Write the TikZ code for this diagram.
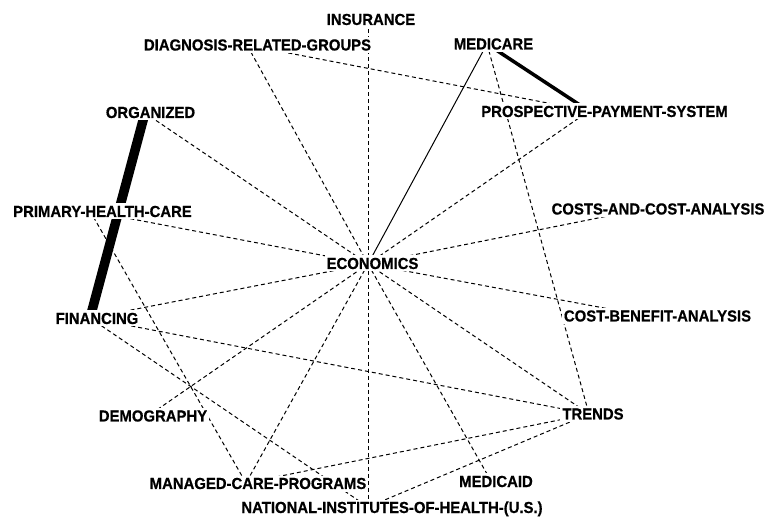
\documentclass[tikz,border=0pt]{standalone}
\usepackage{fontspec}
\newfontfamily\lblfont[FakeStretch=0.93, FakeBold=0.6]{Liberation Sans Bold}
\begin{document}
\begin{tikzpicture}[x=1pt,y=-1pt,
  lbl/.style={font=\lblfont\fontsize{16}{16}\selectfont, fill=white,
    inner xsep=2pt, inner ysep=2.5pt, text height=11pt, text depth=0pt},
  link/.style={line width=1pt, dash pattern=on 4pt off 3pt},
  firm/.style={line width=1pt},
  heavy/.style={line width=3.5pt},
  heavier/.style={line width=9.5pt}]
\useasboundingbox (0,0) rectangle (766,518);

% concept positions (where the links meet)
\coordinate (ins) at (368,19);
\coordinate (drg) at (247,45);
\coordinate (mcare) at (487,44);
\coordinate (pps) at (589,111);
\coordinate (org) at (145,113);
\coordinate (costs) at (643,209);
\coordinate (phc) at (90,211);
\coordinate (econ) at (368,264);
\coordinate (fin) at (90,318);
\coordinate (cba) at (647,316);
\coordinate (demo) at (148,416);
\coordinate (trends) at (589,414);
\coordinate (mcp) at (246,483);
\coordinate (mcaid) at (491,481);
\coordinate (nih) at (368,507);

% links
\foreach \t in {ins,drg,org,phc,fin,demo,mcp,nih,mcaid,trends,cba,costs,pps}
  \draw[link] (econ) -- (\t);
\draw[link] (drg) -- (pps);
\draw[link] (mcare) -- (trends);
\draw[link] (phc) -- (mcp);
\draw[link] (fin) -- (trends);
\draw[link] (fin) -- (nih);
\draw[link] (trends) -- (mcp);
\draw[link] (trends) -- (nih);
\draw[firm] (mcare) -- (econ);
\draw[heavy] (mcare) -- (pps);
\draw[heavier] (org) -- (fin);

% labels
\node[lbl] (insL) at (371,19.5) {INSURANCE};
\node[lbl] (drgL) at (257.5,45) {DIAGNOSIS-RELATED-GROUPS};
\node[lbl] (mcareL) at (493.5,44) {MEDICARE};
\node[lbl] (ppsL) at (604.5,111.5) {PROSPECTIVE-PAYMENT-SYSTEM};
\node[lbl] (orgL) at (150.5,112.5) {ORGANIZED};
\node[lbl] (costsL) at (658,209) {COSTS-AND-COST-ANALYSIS};
\node[lbl] (phcL) at (102.5,211.5) {PRIMARY-HEALTH-CARE};
\node[lbl] (econL) at (372.5,263.5) {ECONOMICS};
\node[lbl] (finL) at (97,318.5) {FINANCING};
\node[lbl] (cbaL) at (657.5,316) {COST-BENEFIT-ANALYSIS};
\node[lbl] (demoL) at (153,416) {DEMOGRAPHY};
\node[lbl] (trendsL) at (593,414) {TRENDS};
\node[lbl] (mcpL) at (258,483.5) {MANAGED-CARE-PROGRAMS};
\node[lbl] (mcaidL) at (496,481.5) {MEDICAID};
\node[lbl] (nihL) at (392,507.5) {NATIONAL-INSTITUTES-OF-HEALTH-(U.S.)};
\end{tikzpicture}
\end{document}
